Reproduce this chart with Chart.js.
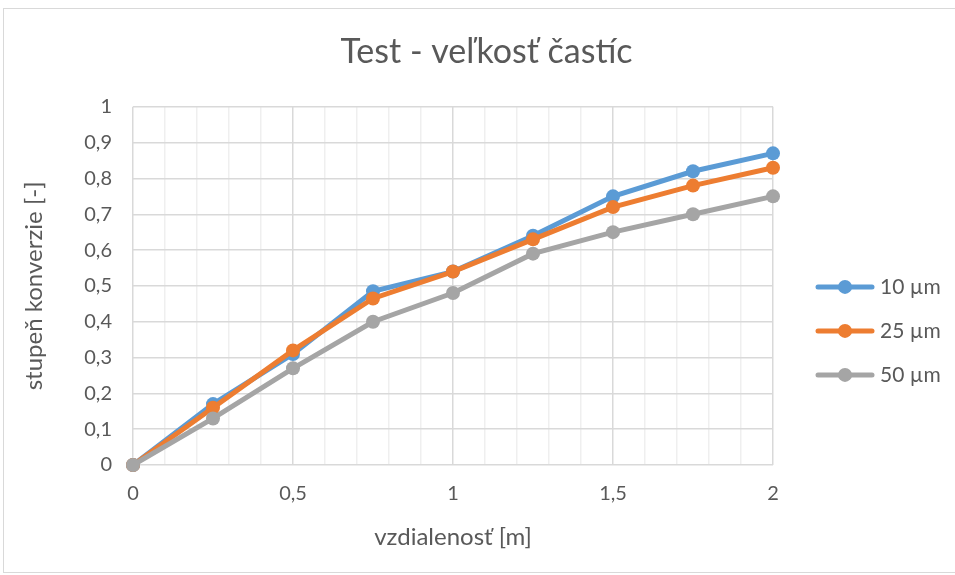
<!DOCTYPE html>
<html>
<head>
<meta charset="utf-8">
<script src="https://cdn.jsdelivr.net/npm/chart.js@4.4.1/dist/chart.umd.min.js"></script>
<style>
  html, body { margin: 0; padding: 0; background: #fff; }
  #frame { position: absolute; left: 3px; top: 8px; width: 1000px; height: 563px; border: 1px solid #D9D9D9; }
  #wrap { position: absolute; left: 0; top: 0; width: 955px; height: 575px; }
</style>
</head>
<body>
<div id="frame"></div>
<div id="wrap"><canvas id="chart" width="955" height="575"></canvas></div>
<script>
const distances = [0, 0.25, 0.5, 0.75, 1, 1.25, 1.5, 1.75, 2];
const series10 = [0, 0.17, 0.31, 0.485, 0.54, 0.64, 0.75, 0.82, 0.87];
const series25 = [0, 0.16, 0.32, 0.465, 0.54, 0.63, 0.72, 0.78, 0.83];
const series50 = [0, 0.13, 0.27, 0.40, 0.48, 0.59, 0.65, 0.70, 0.75];
const seriesNames = ['10 µm', '25 µm', '50 µm'];
const seriesColors = ['#5B9BD5', '#ED7D31', '#A5A5A5'];

const FONT = 'Lato, "Open Sans", sans-serif';
const TEXT = '#595959';

function fmt(v) {
    return String(Math.round(v * 10) / 10).replace('.', ',');
}
function isMajorX(v) {
    return Math.abs(v * 2 - Math.round(v * 2)) < 1e-6;
}

function toPoints(ys) {
    return distances.map((x, i) => ({ x: x, y: ys[i] }));
}

// later series drawn on top, like Excel (lower order = drawn later in Chart.js)
const datasets = [series10, series25, series50].map((ys, i) => ({
    label: seriesNames[i],
    data: toPoints(ys),
    borderColor: seriesColors[i],
    backgroundColor: seriesColors[i],
    borderWidth: 5,
    pointRadius: 7,
    pointHoverRadius: 7,
    pointBorderWidth: 0,
    tension: 0,
    clip: false,
    order: 2 - i
}));

// legend on the right, Excel style (line + marker), drawn beside the plot
const sideLegend = {
    id: 'sideLegend',
    afterDraw(chart) {
        const g = chart.ctx;
        const area = chart.chartArea;
        const x0 = area.right + 45;
        const yMid = (area.top + area.bottom) / 2 + 1;
        g.save();
        chart.data.datasets.forEach((ds, i) => {
            const y = yMid + i * 44;
            g.strokeStyle = ds.borderColor;
            g.fillStyle = ds.borderColor;
            g.lineWidth = 5;
            g.lineCap = 'round';
            g.beginPath(); g.moveTo(x0, y); g.lineTo(x0 + 54, y); g.stroke();
            g.beginPath(); g.arc(x0 + 27, y, 7, 0, Math.PI * 2); g.fill();
            g.fillStyle = TEXT;
            g.font = '21px ' + FONT;
            g.textBaseline = 'middle';
            g.fillText(ds.label, x0 + 62, y);
        });
        g.restore();
    }
};

const ctx = document.getElementById('chart').getContext('2d');
new Chart(ctx, {
    type: 'line',
    data: { datasets: datasets },
    plugins: [sideLegend],
    options: {
        responsive: false,
        animation: false,
        layout: { padding: { left: 18, right: 0, top: 10, bottom: 0 } },
        plugins: {
            title: {
                display: true,
                text: 'Test - veľkosť častíc',
                color: TEXT,
                font: { family: FONT, size: 34, weight: 'normal' },
                padding: { top: 22, bottom: 34 }
            },
            legend: { display: false },
            tooltip: { enabled: false }
        },
        scales: {
            x: {
                type: 'linear',
                min: 0,
                max: 2,
                border: { display: false },
                afterFit: (s) => { s.height = 110; },
                grid: {
                    drawTicks: false,
                    lineWidth: 1.5,
                    color: (c) => (c.tick && isMajorX(c.tick.value)) ? '#D9D9D9' : '#EFEFEF'
                },
                ticks: {
                    stepSize: 0.1,
                    autoSkip: false,
                    maxRotation: 0,
                    padding: 17,
                    color: TEXT,
                    font: { family: FONT, size: 20 },
                    callback: (v) => isMajorX(v) ? fmt(v) : ''
                },
                title: {
                    display: true,
                    text: 'vzdialenosť [m]',
                    color: TEXT,
                    font: { family: FONT, size: 24 },
                    padding: { top: 0, bottom: 23 }
                }
            },
            y: {
                min: 0,
                max: 1,
                border: { display: false },
                afterFit: (s) => { s.width = 115; },
                grid: { drawTicks: false, lineWidth: 1.5, color: '#D9D9D9' },
                ticks: {
                    stepSize: 0.1,
                    padding: 21,
                    color: TEXT,
                    font: { family: FONT, size: 20 },
                    callback: (v) => fmt(v)
                },
                title: {
                    display: true,
                    text: 'stupeň konverzie [-]',
                    color: TEXT,
                    font: { family: FONT, size: 24 },
                    padding: { top: 2, bottom: 0 }
                }
            },
            // empty right-hand axis that reserves the room used by the legend
            legendSpace: {
                type: 'linear',
                position: 'right',
                min: 0,
                max: 1,
                afterFit: (s) => { s.width = 182; },
                border: { display: false },
                grid: { display: false, drawOnChartArea: false },
                ticks: { display: false }
            }
        }
    }
});
</script>
</body>
</html>
